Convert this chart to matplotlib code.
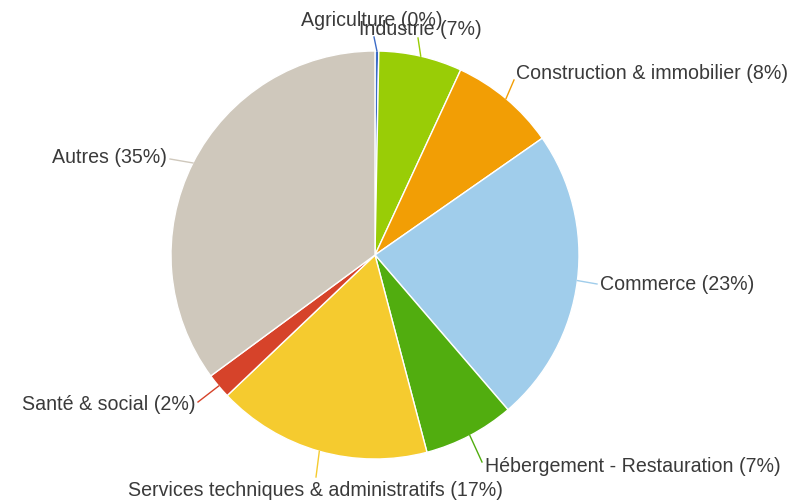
import matplotlib.pyplot as plt
import numpy as np

plt.rcParams['font.family'] = ['Liberation Sans', 'DejaVu Sans']

secteurs = ["Agriculture", "Industrie", "Construction & immobilier", "Commerce",
            "Hébergement - Restauration", "Services techniques & administratifs",
            "Santé & social", "Autres"]
parts = [0.3, 6.6, 8.4, 23.4, 7.2, 17.0, 2.0, 35.1]
couleurs = ["#3b6bc6", "#99cd06", "#f29e05", "#a0cdeb", "#51ad0f", "#f5cb2f",
            "#d6432a", "#cfc8bc"]

# position des etiquettes (pixels, y vers le bas) et alignement
pos_etiq = [(372, 20, 'center'), (420, 29, 'center'), (516, 73, 'left'),
            (600, 284, 'left'), (485, 467, 'left'), (315, 490, 'center'),
            (195, 405, 'right'), (167, 157, 'right')]
fin_trait = [(374, 37), (418, 38), (514, 80), (597, 284), (482, 462),
             (316, 477), (198, 402), (170, 159)]

W, H = 791, 501
fig = plt.figure(figsize=(W / 100, H / 100), dpi=100)
ax = fig.add_axes([0, 0, 1, 1])

cx, cy, r = 375, H - 255, 204
wedges, _ = ax.pie(parts, colors=couleurs, startangle=90, counterclock=False,
                   center=(cx, cy), radius=r, frame=True,
                   wedgeprops=dict(edgecolor='white', linewidth=1))
ax.set_xlim(0, W)
ax.set_ylim(0, H)
ax.set_aspect('equal')
ax.axis('off')

for w, nom, v, c, (tx, ty, ha), (lx, ly) in zip(wedges, secteurs, parts, couleurs,
                                                pos_etiq, fin_trait):
    ang = np.deg2rad((w.theta1 + w.theta2) / 2)
    ex, ey = cx + r * np.cos(ang), cy + r * np.sin(ang)
    ax.plot([ex, lx], [ey, H - ly], color=c, lw=1)
    ax.text(tx, H - ty, f"{nom} ({round(v)}%)", ha=ha, va='center',
            fontsize=14.1, color='#3a3a3a')

fig.savefig("out.png", dpi=100)
